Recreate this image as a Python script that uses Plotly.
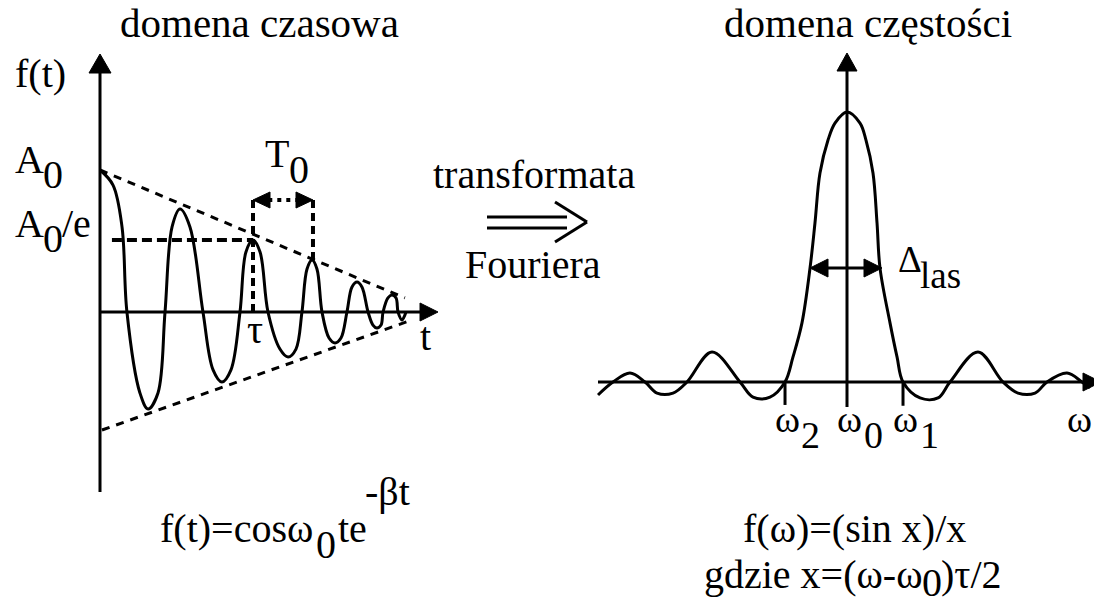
import plotly.graph_objects as go

W, H = 1094, 605
INK = "black"
SERIF = "Liberation Serif"

# ---- time domain: damped oscillation, t in units of tau, f in units of A0 ----
t_vals = [0.000, 0.085, 0.144, 0.176,
          0.261, 0.314, 0.379, 0.425,
          0.471, 0.523, 0.588, 0.673,
          0.739, 0.797, 0.856, 0.915,
          0.954, 1.000, 1.046, 1.098,
          1.176, 1.229, 1.281, 1.320,
          1.353, 1.386, 1.418, 1.451,
          1.497, 1.536, 1.575, 1.614,
          1.647, 1.680, 1.712, 1.752,
          1.784, 1.810, 1.837, 1.850,
          1.882, 1.908, 1.935, 1.948,
          1.974, 2.000]
f_vals = [1.000, 0.894, 0.599, 0.000,
          -0.570, -0.683, -0.570, 0.000,
          0.599, 0.725, 0.599, 0.000,
          -0.408, -0.493, -0.408, 0.000,
          0.423, 0.507, 0.423, 0.000,
          -0.261, -0.317, -0.261, 0.000,
          0.303, 0.366, 0.303, 0.000,
          -0.183, -0.218, -0.183, 0.000,
          0.176, 0.211, 0.176, 0.000,
          -0.092, -0.113, -0.092, 0.000,
          0.099, 0.120, 0.099, 0.000,
          -0.056, 0.000]

# envelope lines +/- A0 e^(-beta t)
env_up_t = [0.000, 1.993]
env_up_f = [1.000, 0.099]
env_lo_t = [0.013, 2.039]
env_lo_f = [-0.831, -0.056]

A0_E = 0.507      # level marked A0/e
TAU = 1.000       # time where the envelope falls to A0/e
T0_END = 1.392    # one period after tau
T0_LEVEL = 0.789  # height of the T0 marker

# ---- frequency domain: (sin x)/x around w0, w in units of the first zero ----
w_vals = [-4.330, -4.070, -3.774, -3.513, -3.304, -3.026, -2.783, -2.348, -1.861,
          -1.635, -1.339, -1.078, -0.939, -0.783, -0.643, -0.557, -0.470, -0.330,
          -0.209, 0.000, 0.226, 0.330, 0.452, 0.522, 0.574, 0.748, 0.870, 0.974,
          1.270, 1.583, 1.791, 2.278, 2.713, 2.974, 3.270, 3.478, 3.826, 4.087, 4.226]
s_vals = [-0.048, 0.000, 0.033, 0.000, -0.041, -0.041, 0.000, 0.111, 0.000,
          -0.056, -0.056, 0.000, 0.093, 0.219, 0.422, 0.589, 0.774, 0.896,
          0.959, 1.000, 0.959, 0.896, 0.774, 0.589, 0.422, 0.219, 0.093, 0.000,
          -0.059, -0.059, 0.000, 0.111, 0.000, -0.041, -0.041, 0.000, 0.033, 0.000,
          -0.022]

W2, W1 = -1.078, 0.974    # zeros either side of the main lobe
DELTA_LEVEL = 0.422       # height of the linewidth marker

fig = go.Figure()
fig.add_trace(go.Scatter(x=t_vals, y=f_vals, mode="lines",
                         line=dict(color=INK, width=3, shape="spline", smoothing=1.0),
                         xaxis="x", yaxis="y", hoverinfo="skip"))
fig.add_trace(go.Scatter(x=w_vals, y=s_vals, mode="lines",
                         line=dict(color=INK, width=3, shape="spline", smoothing=1.0),
                         xaxis="x2", yaxis="y2", hoverinfo="skip"))

shapes = []
ann = []


def P(px, py):
    return px / W, 1 - py / H


def seg(x0, y0, x1, y1, ref=("x", "y"), width=3, dash="solid"):
    shapes.append(dict(type="line", x0=x0, y0=y0, x1=x1, y1=y1,
                       xref=ref[0], yref=ref[1],
                       line=dict(color=INK, width=width, dash=dash)))


def pseg(a, b, width=3):
    (x0, y0), (x1, y1) = P(*a), P(*b)
    seg(x0, y0, x1, y1, ref=("paper", "paper"), width=width)


def tri(*pts):
    pp = [P(*p) for p in pts]
    path = "M {} {} L {} {} L {} {} Z".format(*[c for p in pp for c in p])
    shapes.append(dict(type="path", path=path, xref="paper", yref="paper",
                       fillcolor=INK, line=dict(color=INK, width=1)))


def text(s, x, baseline, size=40, anchor="left"):
    X, Y = P(x, baseline - 0.34 * size)
    ann.append(dict(text=s, x=X, y=Y, xref="paper", yref="paper",
                    xanchor=anchor, yanchor="middle", showarrow=False,
                    borderpad=0, borderwidth=0,
                    font=dict(family=SERIF, size=size, color=INK)))


# left axes
pseg((100, 492), (100, 70))
tri((100, 54), (89, 73), (111, 73))
pseg((100, 312), (422, 312))
tri((438, 312), (420, 303), (420, 321))

# envelope and markers (data units)
seg(env_up_t[0], env_up_f[0], env_up_t[1], env_up_f[1], width=3, dash="8px,7px")
seg(env_lo_t[0], env_lo_f[0], env_lo_t[1], env_lo_f[1], width=3, dash="8px,7px")
seg(0.078, A0_E, TAU, A0_E, width=4, dash="10px,5px")
seg(TAU, 0, TAU, T0_LEVEL, width=4, dash="8px,5px")
seg(T0_END, 0.366, T0_END, T0_LEVEL, width=4, dash="8px,5px")
seg(TAU + 0.1, T0_LEVEL, T0_END - 0.1, T0_LEVEL, width=4, dash="4px,5px")
tri((253, 200), (270, 192), (270, 208))
tri((313, 200), (296, 192), (296, 208))

# right axes
pseg((847, 407), (847, 68))
tri((847, 53), (837, 71), (857, 71))
pseg((598, 382), (1085, 382))
tri((1101, 382), (1083, 373), (1083, 391))
seg(W2, 0, W2, -0.085, ref=("x2", "y2"))
seg(W1, 0, W1, -0.088, ref=("x2", "y2"))

# linewidth arrow
seg(-0.420, DELTA_LEVEL, 0.370, DELTA_LEVEL, ref=("x2", "y2"), width=3)
tri((810, 268), (828, 259), (828, 277))
tri((882, 268), (864, 259), (864, 277))

# transform arrow
pseg((487, 217), (567, 217))
pseg((487, 228), (567, 228))
pseg((555, 202), (587, 222))
pseg((587, 222), (555, 242))

# texts
text("domena czasowa", 259, 37, 41, "center")
text("domena częstości", 868, 37, 41, "center")
text("f(t)", 15, 87)
text("A", 15, 173)
text("0", 43, 188)
text("A", 15, 237)
text("0", 43, 252)
text("/e", 62, 237)
text("T", 265, 167)
text("0", 289, 183)
text("τ", 247, 343)
text("t", 420, 350)
text("transformata", 433, 188)
text("Fouriera", 465, 278)
text("Δ", 898, 272, 37)
text("las", 920, 288, 37)
text("ω", 775, 432, 38)
text("2", 801, 448, 38)
text("ω", 837, 432, 38)
text("0", 864, 448, 38)
text("ω", 893, 432, 38)
text("1", 920, 448, 38)
text("ω", 1067, 432, 38)
text("f(t)=cosω", 160, 542)
text("0", 316, 558)
text("te", 338, 542)
text("-βt", 365, 505)
text("f(ω)=(sin x)/x", 743, 542)
text("gdzie x=(ω-ω", 704, 588)
text("0", 922, 596)
text(")τ/2", 941, 588)

fig.update_layout(
    width=W, height=H, autosize=False,
    margin=dict(l=0, r=0, t=0, b=0, pad=0),
    paper_bgcolor="white", plot_bgcolor="white",
    showlegend=False,
    xaxis=dict(domain=[0, 1], range=[-100 / 153, 994 / 153], visible=False, fixedrange=True),
    yaxis=dict(domain=[0, 1], range=[-293 / 142, 312 / 142], visible=False, fixedrange=True),
    xaxis2=dict(domain=[0, 1], range=[-847 / 57.5, 247 / 57.5], visible=False,
                overlaying="x", anchor="y2", fixedrange=True),
    yaxis2=dict(domain=[0, 1], range=[-223 / 270, 382 / 270], visible=False,
                overlaying="y", anchor="x2", fixedrange=True),
    shapes=shapes,
    annotations=ann,
)

fig.write_html("out.html", config={"displayModeBar": False})
